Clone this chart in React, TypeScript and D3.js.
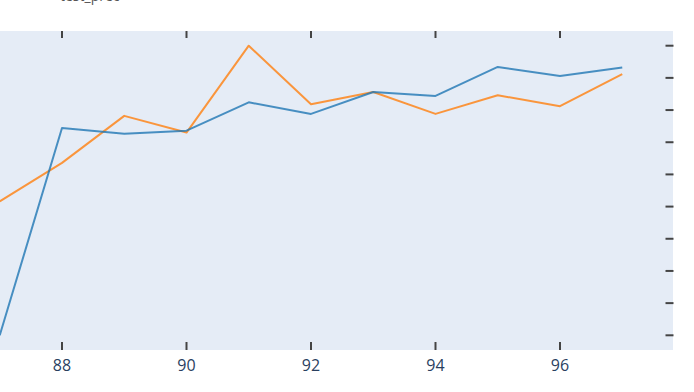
import React from "react";
import * as d3 from "d3";

const epochs = [87, 88, 89, 90, 91, 92, 93, 94, 95, 96, 97];
const seriesA = [0.5, 0.822, 0.813, 0.818, 0.862, 0.844, 0.878, 0.872, 0.917, 0.903, 0.916];
const seriesB = [0.708, 0.768, 0.841, 0.815, 0.95, 0.859, 0.878, 0.844, 0.873, 0.856, 0.906];
const xTicks = [88, 90, 92, 94, 96];
const yTicks = [0.5, 0.55, 0.6, 0.65, 0.7, 0.75, 0.8, 0.85, 0.9, 0.95];
const titleText = "test_prec";

const W = 694;
const H = 392;
const plotL = 0;
const plotR = 673;
const plotT = 31;
const plotB = 350;

export default function App() {
  const x = d3.scaleLinear().domain([88, 96]).range([62, 560]);
  const y = d3.scaleLinear().domain([0.5, 0.95]).range([335.3, 45.7]);
  const line = d3
    .line<number>()
    .x((_, i) => x(epochs[i]))
    .y((d) => y(d));

  return (
    <svg
      width={W}
      height={H}
      style={{ position: "absolute", left: 0, top: 0, background: "#fff" }}
      fontFamily="'Open Sans', sans-serif"
    >
      <defs>
        <clipPath id="plotclip">
          <rect x={plotL} y={plotT} width={plotR - plotL} height={plotB - plotT} />
        </clipPath>
      </defs>
      <text x={60} y={1} fontSize={14} fill="#555">
        {titleText}
      </text>
      <rect x={plotL} y={plotT} width={plotR - plotL} height={plotB - plotT} fill="#e5ecf6" />
      <g clipPath="url(#plotclip)">
        <path d={line(seriesB) || ""} fill="none" stroke="#ff7f0e" strokeOpacity={0.8} strokeWidth={2} strokeLinejoin="round" />
        <path d={line(seriesA) || ""} fill="none" stroke="#1f77b4" strokeOpacity={0.8} strokeWidth={2} strokeLinejoin="round" />
      </g>
      {xTicks.map((t) => (
        <g key={t}>
          <line x1={x(t)} x2={x(t)} y1={plotT} y2={plotT + 7} stroke="#444" strokeWidth={2} />
          <line x1={x(t)} x2={x(t)} y1={plotB - 8} y2={plotB} stroke="#444" strokeWidth={2} />
          <text x={x(t)} y={370.5} fontSize={16} fill="#2a3f5f" textAnchor="middle">
            {t}
          </text>
        </g>
      ))}
      {yTicks.map((t) => (
        <line key={t} x1={665.5} x2={673.5} y1={y(t)} y2={y(t)} stroke="#444" strokeWidth={2} />
      ))}
    </svg>
  );
}
